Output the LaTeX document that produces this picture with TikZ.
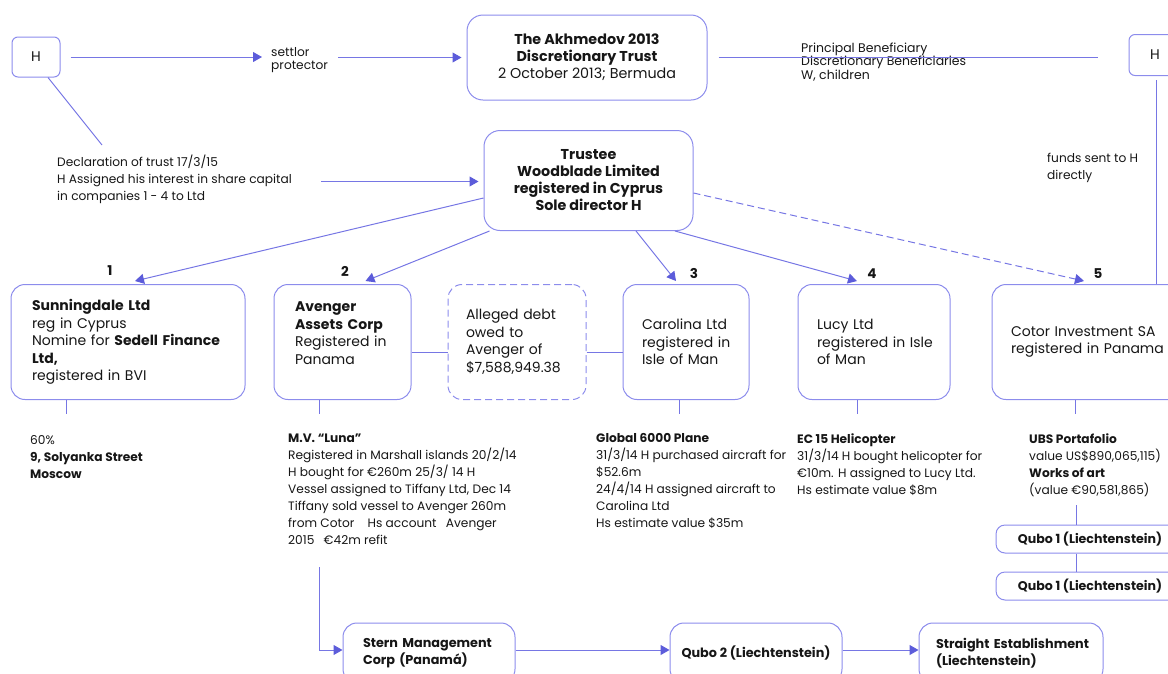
\documentclass[tikz,border=0pt]{standalone}
\usepackage{fontspec}
\setmainfont{Poppins}
\usetikzlibrary{arrows.meta}
\definecolor{linkblue}{RGB}{118,118,228}
\definecolor{tipblue}{RGB}{92,92,218}
\definecolor{frameblue}{RGB}{140,140,236}
\definecolor{inkgray}{RGB}{22,22,22}

\begin{document}
\begin{tikzpicture}[x=1pt,y=-1pt,text=inkgray,
  font=\fontsize{12.2}{17}\selectfont,
  box/.style={draw=frameblue, line width=1pt, rounded corners=14pt, inner sep=0pt,
    align=left, minimum height=115pt, font=\fontsize{14}{17.5}\selectfont},
  txt/.style={anchor=north west, inner sep=0pt, align=left},
  link/.style={draw=linkblue, line width=1pt},
  arr/.style={link, -{Triangle[length=9pt,width=10pt,color=tipblue]}},
  dashline/.style={dash pattern=on 7pt off 4pt},
  num/.style={inner sep=0pt, font=\fontsize{13.5}{14}\selectfont\bfseries}]
                \useasboundingbox (0,0) rectangle (1168,673);

                \node [box, rounded corners=6pt, minimum width=48pt, minimum height=40pt, align=center] (hl) at (36,57) {H};
                \node [box, rounded corners=6pt, minimum width=52pt, minimum height=41pt, align=center] (hr) at (1155,55) {H};

                \node [box, rounded corners=16pt, minimum width=240pt, minimum height=85pt, align=center,
                  font=\fontsize{14.3}{17}\selectfont] (trust) at (587,57.5)
                  {\textbf{The Akhmedov 2013}\\\textbf{Discretionary Trust}\\2 October 2013; Bermuda};
                \node [box, rounded corners=16pt, minimum width=209pt, minimum height=100pt, align=center,
                  font=\fontsize{14.3}{17}\selectfont\bfseries] (trustee) at (588.5,180.5)
                  {Trustee\\Woodblade Limited\\registered in Cyprus\\Sole director H};

                \node [txt, font=\fontsize{12.2}{13}\selectfont] (settlor) at (271,47) {settlor\\protector};
                \node [txt, font=\fontsize{12.5}{13.5}\selectfont] (benef) at (801,42.5)
                  {Principal Beneficiary\\Discretionary Beneficiaries\\W, children};
                \node [txt] (funds) at (1047,152.5) {funds sent to H\\directly};
                \node [txt] (decl) at (57,155)
                  {Declaration of trust 17/3/15\\H Assigned his interest in share capital\\in companies 1 - 4 to Ltd};
                \coordinate (declTop) at (102,145);
                \coordinate (declOut) at (321,181.5);

                \draw[arr, shorten <=10pt, shorten >=9pt] (hl.east) -- (hl.east -| settlor.west);
                \draw[arr, shorten <=10pt, shorten >=5pt] (settlor.east |- trust.west) -- (trust.west);
                \draw[link, shorten <=11pt, shorten >=31pt] (trust.east) -- (trust.east -| hr.west);
                \draw[link, shorten <=4pt] ([xshift=1pt]hr.south) -- ([xshift=1pt]hr.south |- 0,284.5);
                \draw[link] ([xshift=12pt]hl.south) -- (declTop);
                \draw[arr, shorten >=5pt] (declOut) -- (declOut -| trustee.west);

                % companies
                \node [box, minimum width=234pt, text width=192pt] (sun) at (128,342)
                  {\textbf{Sunningdale Ltd}\\reg in Cyprus\\\mbox{Nomine for \textbf{Sedell Finance}}\\\textbf{Ltd,}\\registered in BVI};
                \node [box, minimum width=137pt, text width=95pt] (aven) at (342.5,342)
                  {\textbf{Avenger}\\\textbf{Assets Corp}\\\mbox{Registered in}\\Panama\\\mbox{}};
                \node [box, dashline, minimum width=138pt, text width=102pt] (debt) at (517,342)
                  {Alleged debt\\owed to\\Avenger of\\\$7,588,949.38};
                \node [box, minimum width=126pt, text width=88pt] (carol) at (686,342)
                  {Carolina Ltd\\\mbox{registered in}\\Isle of Man};
                \node [box, minimum width=152pt, text width=114pt] (lucy) at (874,342)
                  {Lucy Ltd\\\mbox{registered in Isle}\\of Man};
                \node [box, minimum width=196pt, text width=158pt] (cotor) at (1090,342)
                  {\mbox{Cotor Investment SA}\\\mbox{registered in Panama}};

                \node [num] (n1) at (110,271) {1};
                \node [num] (n2) at (345,271) {2};
                \node [num] (n3) at (694,273) {3};
                \node [num] (n4) at (872,274) {4};
                \node [num] (n5) at (1098,274) {5};

                \draw[arr] ([yshift=-17.5pt]trustee.west) -- ([xshift=7pt,yshift=3pt]sun.north);
                \draw[arr] ([xshift=6pt]trustee.south west) -- ([xshift=23pt,yshift=3pt]aven.north);
                \draw[arr] ([xshift=47.5pt]trustee.south) -- ([xshift=-10pt,yshift=3pt]carol.north);
                \draw[arr] ([xshift=86.5pt]trustee.south) -- ([xshift=-17pt,yshift=3pt]lucy.north);
                \draw[arr, dashline] ([yshift=-12.5pt]trustee.east) -- ([xshift=-6pt,yshift=3pt]cotor.north);

                \draw[link] ([yshift=-10pt]aven.east) -- ([yshift=-10pt]debt.west);
                \draw[link] ([yshift=-10pt]debt.east) -- ([yshift=-10pt]carol.west);

                \draw[link] ([xshift=-62pt]sun.south) -- ++(0,14);
                \draw[link] ([xshift=-23.5pt]aven.south) -- ++(0,14);
                \draw[link] ([xshift=-7pt]carol.south) -- ++(0,14);
                \draw[link] ([xshift=-17pt]lucy.south) -- ++(0,14);
                \draw[link] ([xshift=-15pt]cotor.south) -- ++(0,14);

                % assets
                \node [txt] (sunnote) at (30,435)
                  {60\%\\\textbf{9, Solyanka Street}\\\textbf{Moscow}};
                \node [txt] (luna) at (288,433.5)
                  {\textbf{M.V. “Luna”}\\Registered in Marshall islands 20/2/14\\H bought for €260m 25/3/ 14 H\\Vessel assigned to Tiffany Ltd, Dec 14\\Tiffany sold vessel to Avenger 260m\\from Cotor\hspace{10pt} Hs account\hspace{6pt} Avenger\\2015\hspace{6pt} €42m refit};
                \node [txt] (plane) at (596,433.5)
                  {\textbf{Global 6000 Plane}\\31/3/14 H purchased aircraft for\\\$52.6m\\24/4/14 H assigned aircraft to\\Carolina Ltd\\Hs estimate value \$35m};
                \node [txt] (heli) at (797,433.5)
                  {\textbf{EC 15 Helicopter}\\31/3/14 H bought helicopter for\\€10m. H assigned to Lucy Ltd.\\Hs estimate value \$8m};
                \node [txt] (ubs) at (1029,433.5)
                  {\textbf{UBS Portafolio}\\value US\$890,065,115)\\\textbf{Works of art}\\(value €90,581,865)};

                \node [box, rounded corners=9pt, minimum width=188pt, minimum height=28pt, align=center,
                  font=\fontsize{12.6}{13}\selectfont\bfseries] (qa) at (1090,539) {Qubo 1 (Liechtenstein)};
                \node [box, rounded corners=9pt, minimum width=188pt, minimum height=28pt, align=center,
                  font=\fontsize{12.6}{13}\selectfont\bfseries] (qb) at (1090,586) {Qubo 1 (Liechtenstein)};
                \draw[link] ([xshift=-14pt]qa.north) -- ++(0,-20);
                \draw[link] ([xshift=-14pt]qa.south) -- ([xshift=-14pt]qb.north);

                % bottom chain
                \node [box, minimum width=172pt, minimum height=60pt, text width=132pt,
                  font=\fontsize{12.8}{17}\selectfont\bfseries] (stern) at (429,653) {Stern Management\\Corp (Panamá)};
                \node [box, minimum width=172pt, minimum height=60pt, align=center,
                  font=\fontsize{12.8}{17}\selectfont\bfseries] (qubo2) at (756,653) {Qubo 2 (Liechtenstein)};
                \node [box, minimum width=184pt, minimum height=60pt, text width=150pt,
                  font=\fontsize{12.8}{17}\selectfont\bfseries] (straight) at (1011,653) {\mbox{Straight Establishment}\\(Liechtenstein)};
                \coordinate (lunaEnd) at (319,567);

                \draw[arr] (lunaEnd) |- ([yshift=3pt]stern.west);
                \draw[arr] ([yshift=3pt]stern.east) -- ([yshift=3pt]qubo2.west);
                \draw[arr] ([yshift=3pt]qubo2.east) -- ([yshift=3pt]straight.west);
                \end{tikzpicture}
\end{document}
